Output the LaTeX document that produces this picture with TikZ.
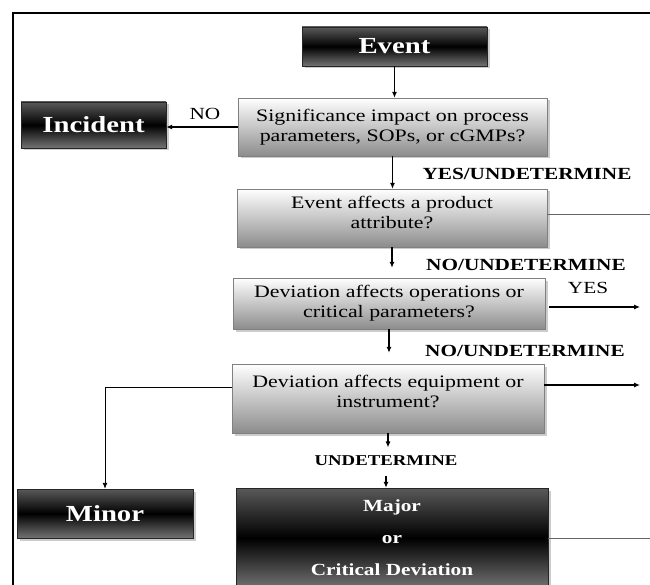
\documentclass[tikz,border=0pt]{standalone}
\usepackage{fontspec}
\setmainfont{Liberation Serif}[FakeStretch=1.25]
\usepackage{tikz}
\usetikzlibrary{arrows.meta,positioning,shadows,calc}

\begin{document}
\begin{tikzpicture}[x=1pt,y=-1pt,
  lightbox/.style={draw=black!50,top color=white,bottom color=black!45,
    drop shadow={shadow xshift=2.5pt,shadow yshift=-2.5pt,fill=black!40},
    inner sep=2pt,align=center,font=\fontsize{17.5}{20}\selectfont},
  darkbox/.style={draw=black!85,top color=black!65,bottom color=black!55,middle color=black,
    drop shadow={shadow xshift=2.5pt,shadow yshift=-2.5pt,fill=black!40},
    text=white,inner sep=2pt,font=\bfseries\fontsize{23}{26}\selectfont},
  arr/.style={-{Latex[length=6pt,width=5pt]},line width=1.1pt},
  thinline/.style={draw=black!60,line width=0.8pt},
  plain/.style={font=\fontsize{17}{20}\selectfont},
  tag/.style={font=\bfseries\fontsize{17}{20}\selectfont}]
  \useasboundingbox (0,0) rectangle (650,585);
  \draw[line width=2.4pt] (13,600) -- (13,13) -- (660,13);

  \node[darkbox,minimum width=185pt,minimum height=39pt] (event) at (394.5,46.5) {Event};
  \node[lightbox,minimum width=309pt,minimum height=58pt] (signif) at (392.5,127) {Significance impact on process\\parameters, SOPs, or cGMPs?};
  \node[darkbox,minimum width=145pt,minimum height=46pt] (incident) at (93.5,125) {Incident};
  \node[lightbox,minimum width=310pt,minimum height=58pt] (product) at (392,218) {Event affects a product\\attribute?\\[-8pt]\mbox{}};
  \node[lightbox,minimum width=312pt,minimum height=51pt] (oper) at (389,303.5) {Deviation affects operations or\\critical parameters?};
  \node[lightbox,minimum width=312pt,minimum height=69pt] (equip) at (388,398.5) {Deviation affects equipment or\\instrument?\\[-6pt]\mbox{}};
  \node[darkbox,minimum width=176pt,minimum height=49pt] (minor) at (105,513.5) {Minor};
  \node[darkbox,minimum width=312pt,minimum height=100pt,align=center,
    font=\bfseries\fontsize{17}{32}\selectfont] (major) at (392,538) {Major\\or\\Critical Deviation};

  \node[plain] (nolbl) at (205,114) {NO};
  \node[tag] (yesund) at (527,174) {YES/UNDETERMINE};
  \node[tag] (noundA) at (526,265) {NO/UNDETERMINE};
  \node[plain] (yeslbl) at (588,288) {YES};
  \node[tag] (noundB) at (525,351) {NO/UNDETERMINE};
  \node[font=\bfseries\fontsize{15}{18}\selectfont] (undet) at (386,461) {UNDETERMINE};

  \coordinate (prodend) at (650,214);
  \coordinate (operend) at (640,307);
  \coordinate (equipend) at (640,385);
  \coordinate (majorend) at (650,538);

  \draw[arr] (event.south) -- (event.south |- signif.north);
  \draw[arr] (signif.west) -- (signif.west -| incident.east);
  \draw[arr] (signif.south) -- (signif.south |- product.north);
  \draw[arr,shorten >=10pt] (product.south) -- (product.south |- oper.north);
  \draw[arr,shorten >=11pt] (oper.south) -- (oper.south |- equip.north);
  \draw[arr,shorten >=5pt] (equip.south) -- (equip.south |- undet.north);
  \draw[arr,shorten <=6pt] (undet.south) -- (undet.south |- major.north);
  \draw[thinline] ([yshift=4pt]product.east) -- (prodend);
  \draw[arr,shorten <=4pt] ([yshift=-3.5pt]oper.east) -- (operend);
  \draw[arr] ([yshift=13.5pt]equip.east) -- (equipend);
  \draw[arr,line width=0.9pt] ([yshift=11.5pt]equip.west) -| (minor.north);
  \draw[thinline] (major.east) -- (majorend);
\end{tikzpicture}
\end{document}
